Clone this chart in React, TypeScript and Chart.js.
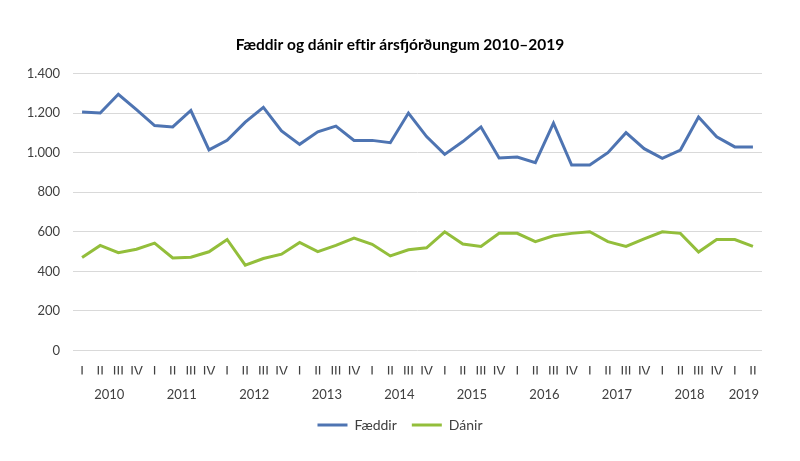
import React, { useEffect, useRef } from 'react';
import { Chart, registerables } from 'chart.js';

Chart.register(...registerables);

const quarterLabels = [
  'I', 'II', 'III', 'IV', 'I', 'II', 'III', 'IV', 'I', 'II', 'III', 'IV',
  'I', 'II', 'III', 'IV', 'I', 'II', 'III', 'IV', 'I', 'II', 'III', 'IV',
  'I', 'II', 'III', 'IV', 'I', 'II', 'III', 'IV', 'I', 'II', 'III', 'IV',
  'I', 'II',
];

const years = ['2010', '2011', '2012', '2013', '2014', '2015', '2016', '2017', '2018', '2019'];

const faeddir = [
  1205, 1200, 1295, 1217, 1137, 1130, 1213, 1014, 1062, 1154, 1229, 1110,
  1042, 1105, 1134, 1062, 1062, 1050, 1200, 1081, 991, 1056, 1130, 973,
  978, 949, 1149, 937, 937, 1000, 1101, 1020, 971, 1013, 1180, 1080,
  1029, 1029,
];

const danir = [
  470, 531, 494, 512, 543, 468, 471, 499, 561, 431, 465, 487,
  546, 500, 531, 568, 537, 478, 509, 519, 600, 538, 526, 592,
  592, 550, 580, 592, 600, 550, 526, 564, 600, 592, 498, 561,
  561, 526,
];

const yTicks = [0, 200, 400, 600, 800, 1000, 1200, 1400];

const titleText = 'Fæddir og dánir eftir ársfjórðungum 2010–2019';
const seriesNames = ['Fæddir', 'Dánir'];
const seriesColors = ['#4e74b2', '#93be3b'];

const fmt = (v: number) => String(v).replace(/\B(?=(\d{3})+(?!\d))/g, '.');

// centre index of each year's group of quarters
function yearCentres(): number[] {
  const groups: number[][] = [];
  quarterLabels.forEach((q, i) => {
    if (q === 'I' || groups.length === 0) groups.push([]);
    groups[groups.length - 1].push(i);
  });
  return groups.map((g) => (g[0] + g[g.length - 1]) / 2);
}

const FONT = 'Lato, "Open Sans", sans-serif';

export default function App() {
  const ref = useRef<HTMLCanvasElement | null>(null);

  useEffect(() => {
    document.body.style.margin = '0';
    const canvas = ref.current;
    if (!canvas) return;
    const centres = yearCentres();
    const n = quarterLabels.length;

    const chart = new Chart(canvas, {
      type: 'line',
      data: {
        labels: quarterLabels,
        datasets: [
          {
            label: seriesNames[0],
            data: faeddir,
            borderColor: seriesColors[0],
            backgroundColor: seriesColors[0],
            borderWidth: 3,
            pointRadius: 0,
            tension: 0,
          },
          {
            label: seriesNames[1],
            data: danir,
            borderColor: seriesColors[1],
            backgroundColor: seriesColors[1],
            borderWidth: 3,
            pointRadius: 0,
            tension: 0,
          },
        ],
      },
      options: {
        responsive: false,
        animation: false,
        layout: { padding: { left: 0, right: 0, top: 0, bottom: 19 } },
        plugins: {
          title: {
            display: true,
            text: titleText,
            color: '#000',
            font: { family: FONT, size: 15.5, weight: 'bold' },
            padding: { top: 35.7, bottom: 19.2 },
          },
          legend: {
            position: 'bottom',
            labels: {
              boxWidth: 30,
              boxHeight: 3,
              padding: 15,
              color: '#404040',
              font: { family: FONT, size: 14 },
              generateLabels: (c: any) =>
                Chart.defaults.plugins.legend.labels
                  .generateLabels(c)
                  .map((it: any) => ({ ...it, lineWidth: 0 })),
            },
          },
          tooltip: { enabled: false },
        },
        scales: {
          x: {
            type: 'category',
            offset: true,
            weight: 0,
            grid: { display: false },
            border: { display: false },
            ticks: {
              autoSkip: false,
              maxRotation: 0,
              padding: 6,
              color: '#404040',
              font: { family: FONT, size: 13 },
            },
            afterFit: (s: any) => {
              s.height = 24;
            },
          },
          x2: {
            type: 'linear',
            position: 'bottom',
            weight: 1,
            min: -0.5,
            max: n - 0.5,
            bounds: 'data',
            grid: { display: false },
            border: { display: false },
            afterBuildTicks: (s: any) => {
              s.ticks = centres.map((v) => ({ value: v }));
            },
            ticks: {
              autoSkip: false,
              maxRotation: 0,
              padding: 5,
              color: '#404040',
              font: { family: FONT, size: 13 },
              callback: (_v: any, i: number) => years[i],
            },
            afterFit: (s: any) => {
              s.height = 28.5;
            },
          },
          y: {
            min: 0,
            max: 1400,
            afterBuildTicks: (s: any) => {
              s.ticks = yTicks.map((v) => ({ value: v }));
            },
            grid: { color: '#d9d9d9', drawTicks: false, lineWidth: 1 },
            border: { display: false },
            ticks: {
              padding: 13,
              color: '#404040',
              font: { family: FONT, size: 13 },
              callback: (v: any) => fmt(Number(v)),
            },
            afterFit: (s: any) => {
              s.width = 73;
            },
          },
          spacer: {
            type: 'linear',
            position: 'right',
            display: true,
            grid: { display: false },
            border: { display: false },
            ticks: { display: false },
            afterFit: (s: any) => {
              s.width = 38;
            },
          },
        },
      } as any,
    });

    return () => chart.destroy();
  }, []);

  return (
    <div style={{ width: 800, height: 461 }}>
      <canvas ref={ref} width={800} height={461} />
    </div>
  );
}
